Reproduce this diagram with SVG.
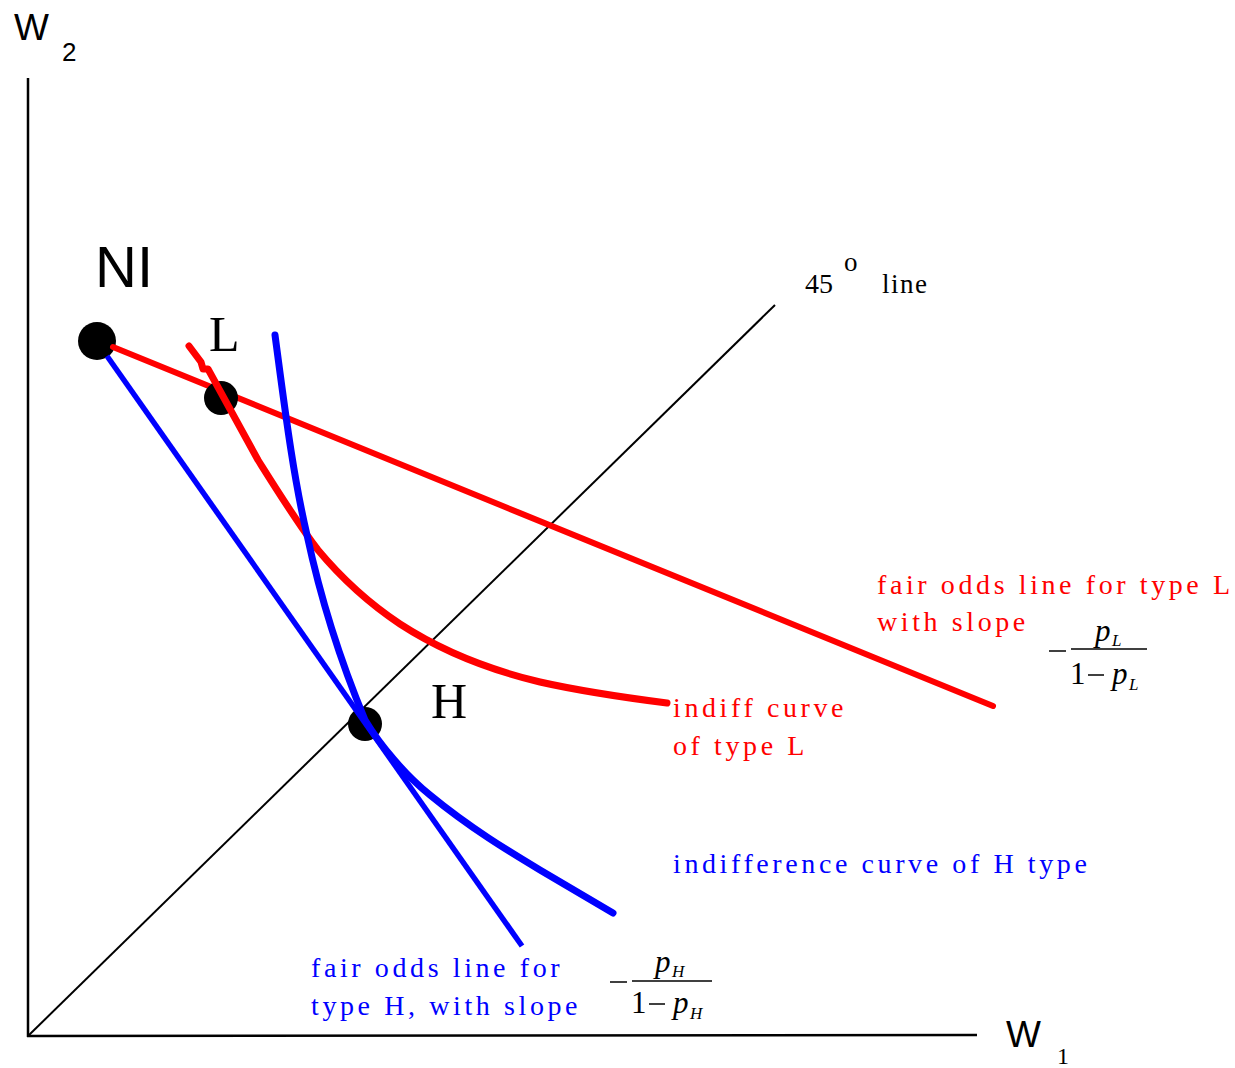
<svg xmlns="http://www.w3.org/2000/svg" width="1235" height="1068" viewBox="0 0 1235 1068">
<style>
.sans{font-family:"Liberation Sans",Arial,sans-serif;fill:#000}
.serif{font-family:"Liberation Serif","Times New Roman",serif}
.red{fill:#ff0000}
.blue{fill:#0000ff}
.lbl{font-size:28px;letter-spacing:3.6px}
.math{font-family:"Liberation Serif","Times New Roman",serif;font-size:31px;fill:#000}
.it{font-style:italic}
.sub{font-size:17px}
.dot{fill:#000}
</style>
<rect width="1235" height="1068" fill="#fff"/>
<g id="axes" stroke="#000" fill="none">
<line x1="28" y1="78" x2="28" y2="1037" stroke-width="2.5"/>
<line x1="27" y1="1036" x2="977" y2="1035" stroke-width="2.5"/>
<line x1="28" y1="1036" x2="775" y2="305" stroke-width="2"/>
</g>
<g id="node-NI"><circle class="dot" cx="97" cy="341" r="19"/></g>
<g id="connectors" fill="none" stroke-linecap="round" stroke-linejoin="round">
<line id="fair-L" x1="113" y1="347" x2="993" y2="706" stroke="#ff0000" stroke-width="6"/>
</g>
<g id="node-L"><circle class="dot" cx="221" cy="398" r="17"/></g>
<g id="curves" fill="none" stroke-linejoin="round">
<path id="indiff-L" d="M189,346 L201,362 L203,369 L208,369 L258,460 C280,495 298,524 318,550 C343,580 370,604 400,624 C440,650 490,670 540,682 C580,691 620,697 667,703" stroke="#ff0000" stroke-width="7" stroke-linecap="round"/>
</g>
<g id="node-H"><circle class="dot" cx="365" cy="724" r="17"/></g>
<g id="blue-curves" fill="none" stroke-linejoin="round">
<line id="fair-H" x1="107" y1="356" x2="522" y2="946" stroke="#0000ff" stroke-width="5.5"/>
<path id="indiff-H" d="M275,335 C285,410 293,475 307,535 C322,605 340,660 365,720 C380,745 405,775 430,795 C470,828 510,852 540,870 L613,913" stroke="#0000ff" stroke-width="7" stroke-linecap="round"/>
</g>
<g id="labels">
<text class="sans" x="14" y="40" font-size="37">W</text>
<text class="sans" x="62" y="61" font-size="26">2</text>
<text class="sans" x="1006" y="1047" font-size="37">W</text>
<text class="serif" x="1057" y="1064" font-size="24">1</text>
<text class="sans" x="95" y="287" font-size="58">NI</text>
<text class="serif" x="209" y="351" font-size="50">L</text>
<text class="serif" x="431" y="718" font-size="50">H</text>
<text class="serif" x="805" y="293" font-size="28">45</text>
<text class="serif" x="844" y="271" font-size="27">o</text>
<text class="serif" x="882" y="293" font-size="27" letter-spacing="1.5">line</text>
<text class="serif red lbl" x="877" y="594">fair odds line for type L</text>
<text class="serif red lbl" x="877" y="631">with slope</text>
<text class="serif red lbl" x="673" y="717">indiff curve</text>
<text class="serif red lbl" x="673" y="755">of type L</text>
<text class="serif blue lbl" x="673" y="873">indifference curve of H type</text>
<text class="serif blue lbl" x="311" y="977">fair odds line for</text>
<text class="serif blue lbl" x="311" y="1015">type H, with slope</text>
</g>
<g id="formula-L">
<line x1="1049" y1="651" x2="1066" y2="651" stroke="#000" stroke-width="1.5"/>
<text class="math it" x="1095" y="641">p</text>
<text class="math it sub" x="1112" y="646">L</text>
<line x1="1071" y1="649" x2="1147" y2="649" stroke="#000" stroke-width="1.3"/>
<text class="math" x="1070" y="684">1</text>
<line x1="1088" y1="675" x2="1104" y2="675" stroke="#000" stroke-width="1.5"/>
<text class="math it" x="1112" y="684">p</text>
<text class="math it sub" x="1129" y="690">L</text>
</g>
<g id="formula-H">
<line x1="610" y1="982" x2="627" y2="982" stroke="#000" stroke-width="1.5"/>
<text class="math it" x="655" y="972">p</text>
<text class="math it sub" x="672" y="977">H</text>
<line x1="632" y1="981" x2="712" y2="981" stroke="#000" stroke-width="1.3"/>
<text class="math" x="631" y="1013">1</text>
<line x1="649" y1="1004" x2="665" y2="1004" stroke="#000" stroke-width="1.5"/>
<text class="math it" x="673" y="1013">p</text>
<text class="math it sub" x="690" y="1019">H</text>
</g>
</svg>
